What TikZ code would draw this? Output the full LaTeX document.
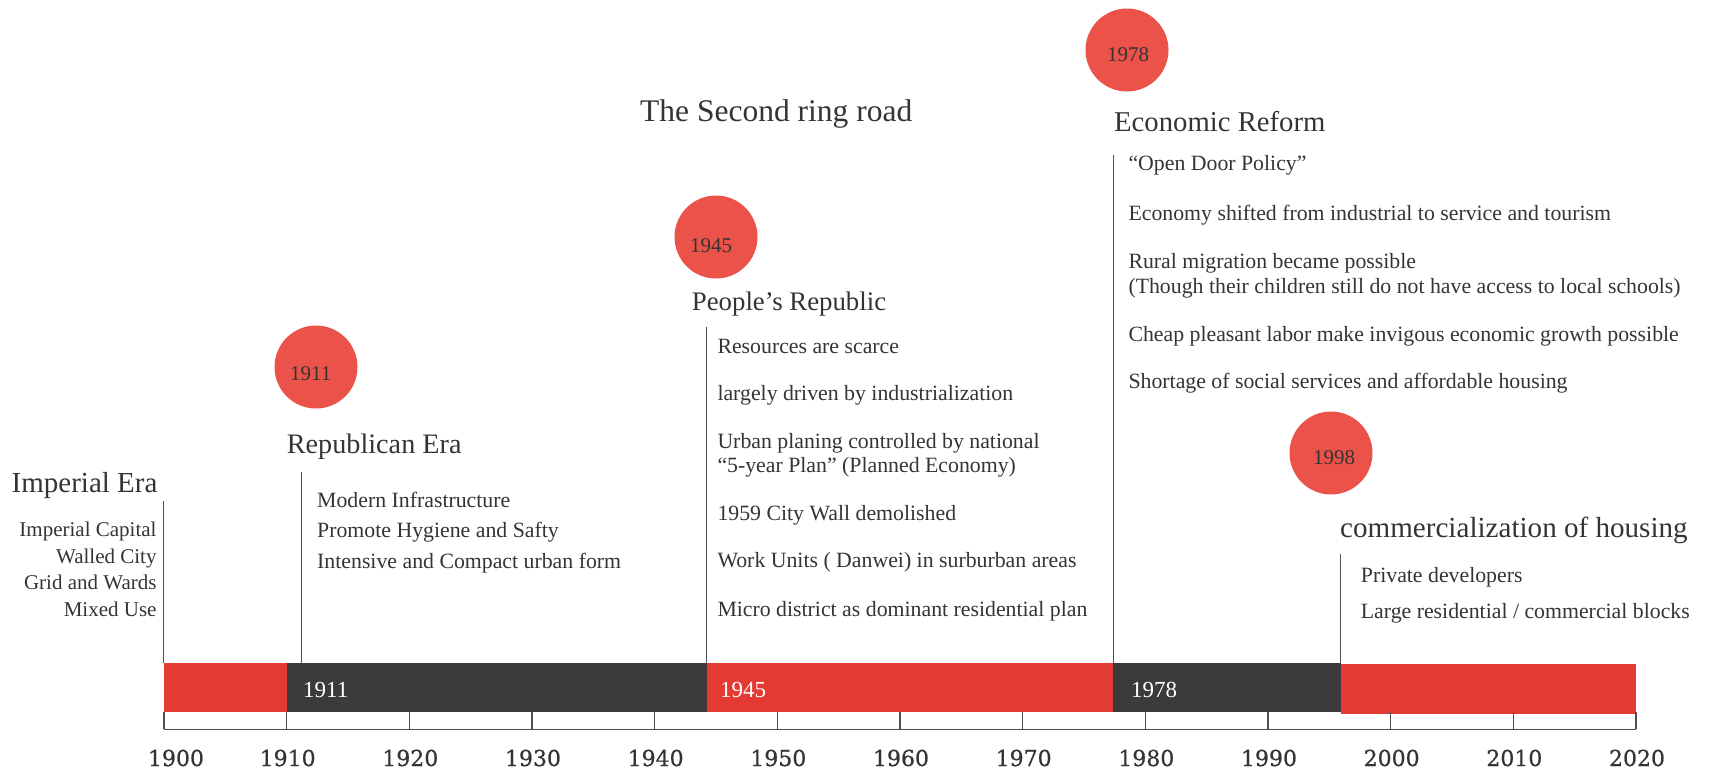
\documentclass[tikz,border=0pt]{standalone}
\usepackage{fontspec}
\setmainfont{Liberation Serif}
\newfontfamily\axisfont[FakeBold=0.6]{DejaVu Serif}
\definecolor{barred}{RGB}{228,58,52}
\definecolor{circred}{RGB}{234,82,74}
\definecolor{bardark}{RGB}{60,58,60}
\definecolor{txt}{RGB}{52,52,52}
\definecolor{linegray}{RGB}{80,80,80}
\begin{document}
\begin{tikzpicture}[x=1pt,y=-1pt,
  head/.style={anchor=base west, inner sep=0, text=txt},
  body/.style={anchor=base west, inner sep=0, text=txt, font=\fontsize{21.8}{26}\selectfont},
  bodyr/.style={anchor=base east, inner sep=0, text=txt, font=\fontsize{21}{26}\selectfont},
  yearcirc/.style={circle, fill=circred, minimum size=83pt, inner sep=0},
  circnum/.style={anchor=base west, inner sep=0, text=txt, font=\fontsize{21}{24}\selectfont},
  barnum/.style={anchor=base west, inner sep=0, text=white, font=\fontsize{23}{26}\selectfont},
  axisnum/.style={anchor=base, inner sep=0, text=txt, font=\axisfont\fontsize{22}{26}\selectfont},
  vline/.style={draw=linegray, line width=1pt},
  axisline/.style={draw=linegray, line width=1.3pt}
]
\useasboundingbox (0,0) rectangle (1711,774);

% ---- bar segments ----
\fill[barred]  (164,662.5) rectangle (286.7,711.7);
\fill[bardark] (286.7,662.5) rectangle (706.5,711.7);
\fill[barred]  (706.5,662.5) rectangle (1113,711.7);
\fill[bardark] (1113,662.5) rectangle (1340.7,711.7);
\fill[barred]  (1340.7,664) rectangle (1636,714);

\node[barnum] (b1911) at (303,697) {1911};
\node[barnum] (b1945) at (720,697) {1945};
\node[barnum] (b1978) at (1131,697) {1978};

% ---- axis ----
\draw[axisline] (164,729.3) -- (1636,729.3);
\foreach \k in {0,...,12} {
  \draw[axisline] ({164+\k*122.667},711.7) -- ({164+\k*122.667},729.3);
}
\node[axisnum] (y1900) at (176,766) {1900};
\foreach \k/\yr in {1/1910,2/1920,3/1930,4/1940,5/1950,6/1960,7/1970,8/1980,9/1990,10/2000,11/2010,12/2020} {
  \node[axisnum] (y\yr) at ({164+\k*122.667+1},766) {\yr};
}

% ---- Imperial Era ----
\node[head, font=\fontsize{29}{34}\selectfont] (himp) at (11.5,492.3) {Imperial Era};
\coordinate (limpT) at (163.5,500.7);
\coordinate (limpB) at (163.5,662.5);
\draw[vline] (limpT) -- (limpB);
\node[bodyr] (i1) at (156.7,536.7) {Imperial Capital};
\node[bodyr] (i2) at (156.7,563.3) {Walled City};
\node[bodyr] (i3) at (156.7,589.3) {Grid and Wards};
\node[bodyr] (i4) at (156.7,616.7) {Mixed Use};

% ---- Republican Era ----
\node[yearcirc] (c1911) at (316,367) {};
\node[circnum] (t1911) at (290,380) {1911};
\node[head, font=\fontsize{28.2}{34}\selectfont] (hrep) at (286.7,453.3) {Republican Era};
\coordinate (lrepT) at (301.5,471.7);
\coordinate (lrepB) at (301.5,662.5);
\draw[vline] (lrepT) -- (lrepB);
\node[body] (r1) at (317,507) {Modern Infrastructure};
\node[body] (r2) at (317,537.5) {Promote Hygiene and Safty};
\node[body] (r3) at (317,568.3) {Intensive and Compact urban form};

% ---- People's Republic ----
\node[yearcirc] (c1945) at (716,237) {};
\node[circnum] (t1945) at (690,252.7) {1945};
\node[head, font=\fontsize{26.8}{34}\selectfont] (hpr) at (691.7,310) {People’s Republic};
\coordinate (lprT) at (706.5,326.7);
\coordinate (lprB) at (706.5,662.5);
\draw[vline] (lprT) -- (lprB);
\node[body] (p1) at (717.3,353.3) {Resources are scarce};
\node[body] (p2) at (717.3,400.7) {largely driven by industrialization};
\node[body] (p3) at (717.3,448.3) {Urban planing controlled by national};
\node[body] (p4) at (717.3,472.3) {“5-year Plan” (Planned Economy)};
\node[body] (p5) at (717.3,520) {1959 City Wall demolished};
\node[body] (p6) at (717.3,567.7) {Work Units ( Danwei) in surburban areas};
\node[body] (p7) at (717.3,616) {Micro district as dominant residential plan};

% ---- Second ring road ----
\node[head, font=\fontsize{31.5}{36}\selectfont] (ring) at (640,121.7) {The Second ring road};

% ---- Economic Reform ----
\node[yearcirc] (c1978) at (1127,50) {};
\node[circnum] (t1978) at (1107,61.7) {1978};
\node[head, font=\fontsize{28.7}{34}\selectfont] (heco) at (1114,131.7) {Economic Reform};
\coordinate (lecoT) at (1113,155);
\coordinate (lecoB) at (1113,662.5);
\draw[vline] (lecoT) -- (lecoB);
\node[body] (e1) at (1128.3,170) {“Open Door Policy”};
\node[body] (e2) at (1128.3,220) {Economy shifted from industrial to service and tourism};
\node[body] (e3) at (1128.3,268.3) {Rural migration became possible};
\node[body] (e4) at (1128.3,293.3) {(Though their children still do not have access to local schools)};
\node[body] (e5) at (1128.3,341.7) {Cheap pleasant labor make invigous economic growth possible};
\node[body] (e6) at (1128.3,388.3) {Shortage of social services and affordable housing};

% ---- commercialization ----
\node[yearcirc] (c1998) at (1331,453) {};
\node[circnum] (t1998) at (1313,464) {1998};
\node[head, font=\fontsize{29.1}{34}\selectfont] (hcom) at (1340,537.3) {commercialization of housing};
\coordinate (lcomT) at (1340.7,554);
\coordinate (lcomB) at (1340.7,664);
\draw[vline] (lcomT) -- (lcomB);
\node[body] (m1) at (1360.7,582.7) {Private developers};
\node[body] (m2) at (1360.7,618.3) {Large residential / commercial blocks};
\end{tikzpicture}
\end{document}
